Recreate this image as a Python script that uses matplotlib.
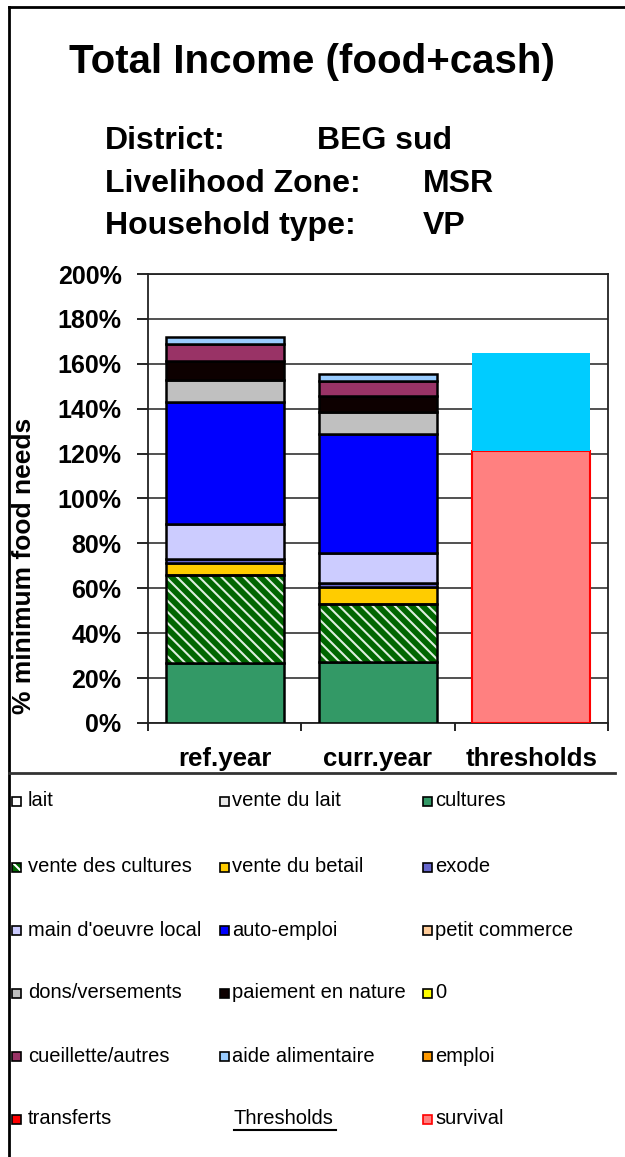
import matplotlib.pyplot as plt
from matplotlib.patches import Rectangle
from matplotlib.lines import Line2D
import numpy as np

plt.rcParams['font.family'] = ['Liberation Sans', 'DejaVu Sans']
plt.rcParams['hatch.linewidth'] = 1.5

# data (% of minimum food needs)
categories = ['ref.year', 'curr.year', 'thresholds']
sources = ['cultures', 'vente des cultures', 'vente du betail', 'exode',
           "main d'oeuvre local", 'auto-emploi', 'dons/versements',
           'paiement en nature', 'cueillette/autres', 'aide alimentaire']
ref_year = [26.7, 39.2, 5.5, 1.6, 15.6, 54.5, 9.7, 8.6, 7.4, 3.3]
curr_year = [27.3, 25.6, 7.8, 1.5, 13.4, 53.0, 10.1, 7.0, 6.6, 3.0]
survival = 121.3
livelihood_protection = 43.6

colors = {
    'lait': '#FFFFFF', 'vente du lait': '#E8E8E8', 'cultures': '#339966',
    'vente des cultures': '#006600', 'vente du betail': '#FFCC00',
    'exode': '#6666CC', "main d'oeuvre local": '#CCCCFF', 'auto-emploi': '#0000FF',
    'petit commerce': '#FFCC99', 'dons/versements': '#C0C0C0',
    'paiement en nature': '#0D0000', '0': '#FFFF00', 'cueillette/autres': '#993366',
    'aide alimentaire': '#99CCFF', 'emploi': '#FF9900', 'transferts': '#FF0000',
    'survival': '#FF8080',
}
legend_labels = ['lait', 'vente du lait', 'cultures',
                 'vente des cultures', 'vente du betail', 'exode',
                 "main d'oeuvre local", 'auto-emploi', 'petit commerce',
                 'dons/versements', 'paiement en nature', '0',
                 'cueillette/autres', 'aide alimentaire', 'emploi',
                 'transferts', 'Thresholds', 'survival']

W, H = 625, 1157
fig = plt.figure(figsize=(W / 100, H / 100), dpi=100)


def fx(px):
    return px / W


def fy(py):
    return 1 - py / H


ax = fig.add_axes([fx(148), fy(723), 460 / W, 449 / H])
x = np.arange(len(categories))
bw = 0.77

# stacked bars
for i, vals in enumerate([ref_year, curr_year]):
    bottom = 0
    for src, v in zip(sources, vals):
        if src == 'vente des cultures':
            ax.bar(x[i], v, bw, bottom=bottom, color=colors[src], edgecolor='#DDEEDD',
                   hatch='\\\\\\', linewidth=0, zorder=3)
            ax.bar(x[i], v, bw, bottom=bottom, facecolor='none', edgecolor='black',
                   linewidth=1.8, zorder=4)
        else:
            ax.bar(x[i], v, bw, bottom=bottom, color=colors[src], edgecolor='black',
                   linewidth=1.8, zorder=3)
        bottom += v

ax.bar(x[2], survival, bw, color=colors['survival'], edgecolor='red', linewidth=1.5, zorder=3)
ax.bar(x[2], livelihood_protection, bw, bottom=survival, color='#00CCFF',
       edgecolor='none', zorder=4)

ax.set_xlim(-0.5, 2.5)
ax.set_ylim(0, 200)
ax.set_yticks(np.arange(0, 201, 20))
ax.set_yticklabels([f'{v}%' for v in range(0, 201, 20)], fontsize=18, fontweight='bold')
ax.tick_params(axis='y', length=8, width=1.2, pad=11, direction='out')
ax.set_xticks(x)
ax.set_xticklabels(categories, fontsize=18.5, fontweight='bold')
ax.tick_params(axis='x', which='major', length=0, pad=17)
ax.set_xticks([-0.5, 0.5, 1.5, 2.5], minor=True)
ax.tick_params(axis='x', which='minor', length=6, width=1.2, direction='out')
ax.yaxis.grid(True, color='#222222', linewidth=1.1, zorder=0)
ax.set_axisbelow(True)
for s in ax.spines.values():
    s.set_linewidth(1.3)
    s.set_color('#222222')

fig.text(fx(24), fy(566), '% minimum food needs', rotation=90, ha='center', va='center',
         fontsize=19, fontweight='bold')

# titles
fig.text(fx(312), fy(62), 'Total Income (food+cash)', ha='center', va='center',
         fontsize=29, fontweight='bold')
rows = [('District:', 'BEG sud', 317, 141),
        ('Livelihood Zone:', 'MSR', 423, 184),
        ('Household type:', 'VP', 423, 226)]
for lab, val, vx, vy in rows:
    fig.text(fx(105), fy(vy), lab, ha='left', va='center', fontsize=23, fontweight='bold')
    fig.text(fx(vx), fy(vy), val, ha='left', va='center', fontsize=23, fontweight='bold')

# frame lines
fig.add_artist(Line2D([fx(9), fx(9)], [fy(7), fy(H + 5)], color='black', lw=2))
fig.add_artist(Line2D([fx(9), fx(W + 5)], [fy(7), fy(7)], color='black', lw=2))
fig.add_artist(Line2D([fx(9), fx(615)], [fy(773), fy(773)], color='#333333', lw=2))

# legend
mark_x = [12, 220, 423]
text_x = [28, 232, 435]
row_y = [801, 867, 930, 993, 1056, 1119]
for k, lab in enumerate(legend_labels):
    r, c = divmod(k, 3)
    yy = row_y[r]
    if lab == 'Thresholds':
        fig.text(fx(234), fy(yy), lab, ha='left', va='center', fontsize=14.5)
        fig.add_artist(Line2D([fx(234), fx(336)], [fy(yy + 11), fy(yy + 11)],
                              color='black', lw=1.5))
        continue
    ec = 'red' if lab == 'survival' else 'black'
    if lab == 'vente des cultures':
        fig.add_artist(Rectangle((fx(mark_x[c]), fy(yy + 5)), 9 / W, 9 / H,
                                 facecolor=colors[lab], edgecolor='white', hatch='\\\\', lw=0))
        fig.add_artist(Rectangle((fx(mark_x[c]), fy(yy + 5)), 9 / W, 9 / H,
                                 facecolor='none', edgecolor=ec, lw=1.2))
    else:
        fig.add_artist(Rectangle((fx(mark_x[c]), fy(yy + 5)), 9 / W, 9 / H,
                                 facecolor=colors[lab], edgecolor=ec, lw=1.2))
    fig.text(fx(text_x[c]), fy(yy), lab, ha='left', va='center', fontsize=14.5)

fig.savefig('out.png', dpi=100)
